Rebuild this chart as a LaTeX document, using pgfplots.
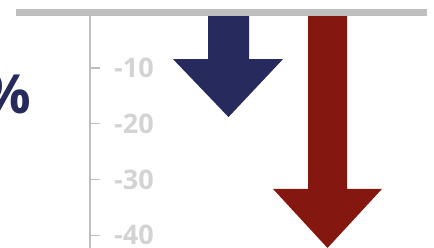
\documentclass[border=0pt]{standalone}
\usepackage{pgfplots}
\pgfplotsset{compat=1.18}
\usepackage{fontspec}
\setmainfont{Open Sans}
\definecolor{navyA}{HTML}{262A5C}
\definecolor{redA}{HTML}{841811}
\definecolor{lineG}{HTML}{BFBFBF}
\definecolor{labG}{HTML}{D3D3D3}
\begin{document}
\begin{tikzpicture}[x=1pt,y=1pt]
\begin{axis}[at={(90pt,0pt)}, anchor=south west, scale only axis,
 width=344pt, height=235.7pt,
 xmin=90, xmax=434, ymin=-42.3, ymax=0,
 axis y line*=left, axis x line=none,
 y axis line style={-, lineG, line width=2.2pt},
 ytick={-10,-20,-30,-40}, yticklabels={-10,-20,-30,-40},
 tick align=inside, major tick length=10pt,
 tick style={lineG, line width=1.3pt},
 yticklabel style={anchor=west, xshift=24pt, inner sep=0pt,
   font=\bfseries\fontsize{27}{27}\selectfont, text=labG},
 xtick=\empty, clip=false]
\addplot[fill=navyA, draw=none] coordinates
 {(208,0) (249,0) (249,-8.4) (283,-8.4) (228.5,-18.8) (173,-8.4) (208,-8.4)} -- cycle;
\addplot[fill=redA, draw=none] coordinates
 {(308,0) (347,0) (347,-31.7) (382,-31.7) (327.5,-42.3) (273,-31.7) (308,-31.7)} -- cycle;
\draw[lineG, line width=7.3pt] (axis cs:16,0) -- (axis cs:427,0);
\end{axis}
\node[anchor=east, inner sep=0pt, text=navyA, font=\bfseries\fontsize{54}{54}\selectfont] at (31pt,154pt) {\%};
\pgfresetboundingbox
\useasboundingbox (0,0) rectangle (434pt,248pt);
\end{tikzpicture}
\end{document}
